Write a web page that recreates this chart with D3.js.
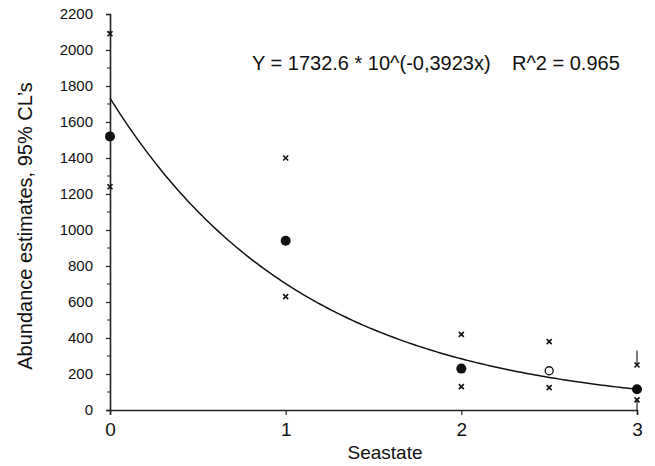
<!DOCTYPE html>
<html>
<head>
<meta charset="utf-8">
<script src="https://cdn.jsdelivr.net/npm/d3@7"></script>
<style>
  body { margin: 0; background: #fff; }
  text { font-family: "Liberation Sans", Arial, sans-serif; fill: #111; }
</style>
</head>
<body>
<div id="chart"></div>
<script>
// Data
const seastate = [0, 1, 2, 3]
const estimate = [1520, 940, 230, 115]
const upperCL = [2090, 1400, 420, 250]
const lowerCL = [1240, 630, 130, 56]
// the open circle point at seastate 2.5
const openX = [2.5]
const openEst = [218]
const openUpper = [380]
const openLower = [124]
// short bar segments drawn at seastate 3
const barX = [3, 3]
const barFrom = [330, 56]
const barTo = [250, 0]
// fitted curve, from the equation shown on the chart
const fitA = 1732.6
const fitB = -0.3923
const fitR2 = 0.965
const yTicks = [0, 200, 400, 600, 800, 1000, 1200, 1400, 1600, 1800, 2000, 2200]
const xTicks = [0, 1, 2, 3]

// Dimensions
let dimensions = {
  width: 655,
  height: 466,
  left: 110,
  right: 637,
  top: 14,
  bottom: 410
}

const svg = d3.select('#chart')
  .append('svg')
    .attr('width', dimensions.width)
    .attr('height', dimensions.height)

// Scales
const x = d3.scaleLinear().domain([0, 3]).range([dimensions.left, dimensions.right])
const y = d3.scaleLinear().domain([0, 2200]).range([dimensions.bottom, dimensions.top])

// Axes
const yAxis = svg.append('g')
  .attr('transform', `translate(${dimensions.left},0)`)
  .call(d3.axisLeft(y).tickValues(yTicks).tickSize(4).tickPadding(13).tickFormat(d3.format('d')))
yAxis.selectAll('text').attr('font-size', 15)

// minor ticks at the hundreds
svg.append('g').selectAll('line')
  .data(d3.range(100, 2200, 200))
  .join('line')
  .attr('x1', dimensions.left - 3)
  .attr('x2', dimensions.left)
  .attr('y1', d => y(d))
  .attr('y2', d => y(d))
  .attr('stroke', '#222')

const xAxis = svg.append('g')
  .attr('transform', `translate(0,${dimensions.bottom})`)
  .call(d3.axisBottom(x).tickValues(xTicks).tickSize(5).tickPadding(8).tickFormat(d3.format('d')))
xAxis.selectAll('text').attr('font-size', 19)

svg.selectAll('.domain').attr('stroke', '#222').attr('stroke-width', 1.6)
svg.selectAll('.tick line').attr('stroke', '#222').attr('stroke-width', 1.2)

// Labels
svg.append('text')
  .attr('x', 385)
  .attr('y', 459)
  .attr('text-anchor', 'middle')
  .attr('font-size', 19)
  .text('Seastate')

svg.append('text')
  .attr('transform', `translate(32,226) rotate(-90)`)
  .attr('text-anchor', 'middle')
  .attr('font-size', 20)
  .text('Abundance estimates, 95% CL\u2019s')

svg.append('text')
  .attr('x', 252)
  .attr('y', 70)
  .attr('font-size', 20)
  .text(`Y = ${fitA} * 10^(${String(fitB).replace('.', ',')}x)`)

svg.append('text')
  .attr('x', 512)
  .attr('y', 70)
  .attr('font-size', 20)
  .text(`R^2 = ${fitR2}`)

// Fitted curve
const curveX = d3.range(0, 3.001, 0.02)
svg.append('path')
  .datum(curveX)
  .attr('fill', 'none')
  .attr('stroke', '#111')
  .attr('stroke-width', 1.5)
  .attr('d', d3.line().x(d => x(d)).y(d => y(fitA * Math.pow(10, fitB * d))))

// bar segments
svg.append('g').selectAll('line')
  .data(barX)
  .join('line')
  .attr('x1', d => x(d))
  .attr('x2', d => x(d))
  .attr('y1', (d, i) => y(barFrom[i]))
  .attr('y2', (d, i) => y(barTo[i]))
  .attr('stroke', '#222')
  .attr('stroke-width', 1.2)

// cross markers for CLs
const crosses = []
seastate.forEach((s, i) => { crosses.push([s, upperCL[i]]); crosses.push([s, lowerCL[i]]) })
openX.forEach((s, i) => { crosses.push([s, openUpper[i]]); crosses.push([s, openLower[i]]) })

svg.append('g').selectAll('path')
  .data(crosses)
  .join('path')
  .attr('transform', d => `translate(${x(d[0])},${y(d[1])})`)
  .attr('d', 'M-2.5,-2.5L2.5,2.5M-2.5,2.5L2.5,-2.5')
  .attr('stroke', '#111')
  .attr('stroke-width', 1.6)

// estimates
svg.append('g').selectAll('circle')
  .data(seastate)
  .join('circle')
  .attr('cx', d => x(d))
  .attr('cy', (d, i) => y(estimate[i]))
  .attr('r', 5)
  .attr('fill', '#111')

svg.append('g').selectAll('circle')
  .data(openX)
  .join('circle')
  .attr('cx', d => x(d))
  .attr('cy', (d, i) => y(openEst[i]))
  .attr('r', 4)
  .attr('fill', '#fff')
  .attr('stroke', '#111')
  .attr('stroke-width', 1.3)
</script>
</body>
</html>
